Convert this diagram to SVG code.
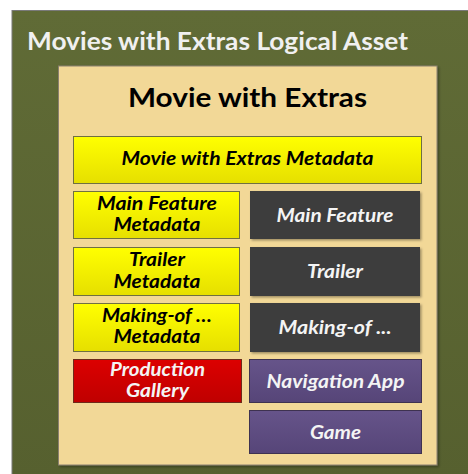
<svg xmlns="http://www.w3.org/2000/svg" width="468" height="474" viewBox="0 0 468 474">
<defs>
<linearGradient id="gOuter" x1="0" y1="0" x2="0" y2="1"><stop offset="0" stop-color="#606b36"/><stop offset="1" stop-color="#56602f"/></linearGradient>
<linearGradient id="gYel" x1="0" y1="0" x2="0" y2="1"><stop offset="0" stop-color="#ffff00"/><stop offset="1" stop-color="#e6df00"/></linearGradient>
<linearGradient id="gRed" x1="0" y1="0" x2="0" y2="1"><stop offset="0" stop-color="#dc0000"/><stop offset="1" stop-color="#bf0000"/></linearGradient>
<linearGradient id="gPur" x1="0" y1="0" x2="0" y2="1"><stop offset="0" stop-color="#66548a"/><stop offset="1" stop-color="#564578"/></linearGradient>
<filter id="sh" x="-5%" y="-5%" width="115%" height="115%"><feDropShadow dx="1.5" dy="1.5" stdDeviation="1" flood-color="#000" flood-opacity="0.35"/></filter>
</defs>
<style>
text{font-family:Lato,"Liberation Sans",sans-serif;font-weight:bold;text-anchor:middle}
.it{font-style:italic;font-size:19px}
.bk{fill:#000}
.wh{fill:#f4f4f4}
.yel{fill:url(#gYel);stroke:#707040;stroke-width:1}
.dk{fill:#3c3c3c;filter:url(#sh)}
.red{fill:url(#gRed);stroke:#6e2a1a;stroke-width:1}
.pur{fill:url(#gPur);stroke:#3e3250;stroke-width:1}
</style>
<g id="logical-asset">
<rect x="12" y="10.5" width="460" height="470" fill="url(#gOuter)" stroke="#7a7a7a" stroke-width="1"/>
<text x="27" y="50" style="text-anchor:start;font-size:25px" fill="#f0f0f0" textLength="381" lengthAdjust="spacingAndGlyphs">Movies with Extras Logical Asset</text>
</g>
<g id="movie-with-extras">
<rect x="58.5" y="66" width="378.5" height="399" fill="#f2d897" stroke="#8a8070" stroke-width="1" filter="url(#sh)"/>
<text x="247.5" y="107" style="font-size:27px" fill="#000" textLength="239" lengthAdjust="spacingAndGlyphs">Movie with Extras</text>
</g>
<g id="extras-metadata">
<rect class="yel" x="73.5" y="136.5" width="348" height="47"/>
<text class="it bk" x="247.5" y="164.5" textLength="252" lengthAdjust="spacingAndGlyphs">Movie with Extras Metadata</text>
</g>
<g id="main-feature-metadata">
<rect class="yel" x="73.5" y="191.5" width="166" height="47"/>
<text class="it bk" x="157" y="210" textLength="120" lengthAdjust="spacingAndGlyphs">Main Feature</text>
<text class="it bk" x="157" y="231" textLength="87" lengthAdjust="spacingAndGlyphs">Metadata</text>
</g>
<g id="main-feature">
<rect class="dk" x="250" y="191" width="170" height="48"/>
<text class="it wh" x="335" y="222" textLength="117" lengthAdjust="spacingAndGlyphs">Main Feature</text>
</g>
<g id="trailer-metadata">
<rect class="yel" x="73.5" y="247.5" width="166" height="48"/>
<text class="it bk" x="157" y="266" textLength="56" lengthAdjust="spacingAndGlyphs">Trailer</text>
<text class="it bk" x="157" y="288" textLength="87" lengthAdjust="spacingAndGlyphs">Metadata</text>
</g>
<g id="trailer">
<rect class="dk" x="250" y="247" width="170" height="49"/>
<text class="it wh" x="335" y="278" textLength="56" lengthAdjust="spacingAndGlyphs">Trailer</text>
</g>
<g id="making-of-metadata">
<rect class="yel" x="73.5" y="303.5" width="166" height="48"/>
<text class="it bk" x="157" y="322" textLength="110" lengthAdjust="spacingAndGlyphs">Making-of …</text>
<text class="it bk" x="157" y="343" textLength="87" lengthAdjust="spacingAndGlyphs">Metadata</text>
</g>
<g id="making-of">
<rect class="dk" x="250" y="303" width="170" height="49"/>
<text class="it wh" x="335" y="333.5" textLength="113" lengthAdjust="spacingAndGlyphs">Making-of ...</text>
</g>
<g id="production-gallery">
<rect class="red" x="73.5" y="359.5" width="168" height="43"/>
<text class="it wh" x="157.5" y="376" textLength="95" lengthAdjust="spacingAndGlyphs">Production</text>
<text class="it wh" x="157.5" y="397" textLength="63" lengthAdjust="spacingAndGlyphs">Gallery</text>
</g>
<g id="navigation-app">
<rect class="pur" x="249.5" y="359.5" width="172" height="43"/>
<text class="it wh" x="335.5" y="387.5" textLength="138" lengthAdjust="spacingAndGlyphs">Navigation App</text>
</g>
<g id="game">
<rect class="pur" x="249.5" y="410.5" width="172" height="43"/>
<text class="it wh" x="335.5" y="438.5" textLength="51" lengthAdjust="spacingAndGlyphs">Game</text>
</g>
<g id="connectors"/>
</svg>
